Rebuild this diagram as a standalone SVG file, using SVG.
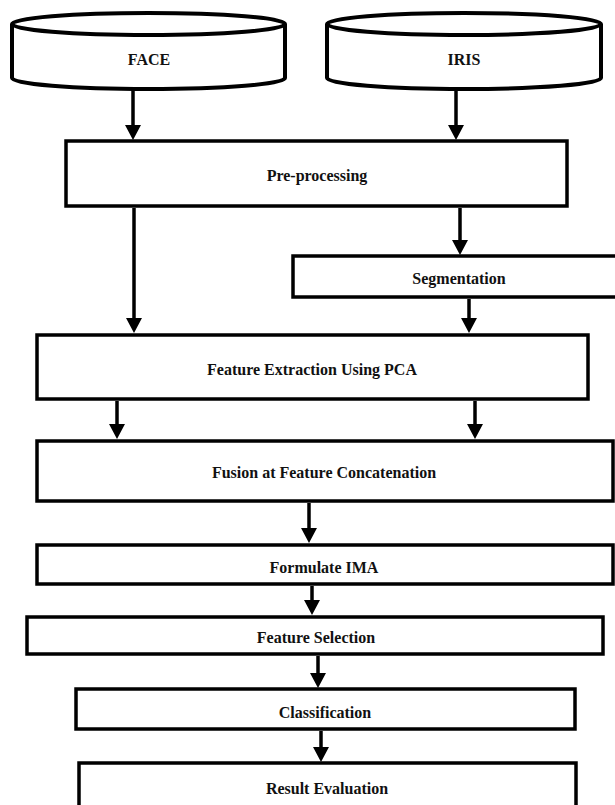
<svg xmlns="http://www.w3.org/2000/svg" width="615" height="805" viewBox="0 0 615 805">
<style>
.box{fill:#fff;stroke:#000;stroke-width:3.5}
.cyl{fill:#fff;stroke:#000;stroke-width:4}
.lbl{font-family:"Liberation Serif","Times New Roman",serif;font-weight:bold;font-size:16px;fill:#111;text-anchor:middle}
.arr{stroke:#000;stroke-width:3.5;fill:none;marker-end:url(#ah)}
</style>
<defs>
<marker id="ah" markerUnits="userSpaceOnUse" viewBox="0 0 15 16" markerWidth="15" markerHeight="16" refX="5" refY="8" orient="auto">
<path d="M0,0 L15,8 L0,16 Z" fill="#000"/>
</marker>
</defs>
<rect width="615" height="805" fill="#fff"/>
<g id="face">
<path class="cyl" d="M12,24 L12,78 A136.5,11 0 0 0 285,78 L285,24"/>
<ellipse class="cyl" cx="148.5" cy="24" rx="136.5" ry="11"/>
<text class="lbl" x="149" y="64.5">FACE</text>
</g>
<g id="iris">
<path class="cyl" d="M327,24 L327,78 A137,11 0 0 0 601,78 L601,24"/>
<ellipse class="cyl" cx="464" cy="24" rx="137" ry="11"/>
<text class="lbl" x="464" y="64.5">IRIS</text>
</g>
<g id="preprocessing">
<rect class="box" x="66" y="141" width="501" height="65"/>
<text class="lbl" x="317" y="180.5">Pre-processing</text>
</g>
<g id="segmentation">
<rect class="box" x="293" y="256" width="332" height="41"/>
<text class="lbl" x="459" y="283.5">Segmentation</text>
</g>
<g id="feature-extraction">
<rect class="box" x="37" y="335" width="551" height="64"/>
<text class="lbl" x="312" y="374.5">Feature Extraction Using PCA</text>
</g>
<g id="fusion">
<rect class="box" x="37" y="441" width="576" height="60"/>
<text class="lbl" x="324" y="477.5">Fusion at Feature Concatenation</text>
</g>
<g id="formulate-ima">
<rect class="box" x="37" y="545" width="576" height="39"/>
<text class="lbl" x="324" y="572.5">Formulate IMA</text>
</g>
<g id="feature-selection">
<rect class="box" x="27" y="617" width="576" height="37"/>
<text class="lbl" x="316" y="642.5">Feature Selection</text>
</g>
<g id="classification">
<rect class="box" x="76" y="689" width="499" height="40"/>
<text class="lbl" x="325" y="717.5">Classification</text>
</g>
<g id="result-evaluation">
<rect class="box" x="79" y="763" width="497" height="50"/>
<text class="lbl" x="327" y="793.5">Result Evaluation</text>
</g>
<g id="connectors">
<line class="arr" x1="133" y1="90" x2="133" y2="130"/>
<line class="arr" x1="456" y1="90" x2="456" y2="130"/>
<line class="arr" x1="460" y1="208" x2="460" y2="245"/>
<line class="arr" x1="134" y1="208" x2="134" y2="323"/>
<line class="arr" x1="469" y1="299" x2="469" y2="323"/>
<line class="arr" x1="117" y1="401" x2="117" y2="429"/>
<line class="arr" x1="475" y1="401" x2="475" y2="429"/>
<line class="arr" x1="309" y1="503" x2="309" y2="533"/>
<line class="arr" x1="312" y1="586" x2="312" y2="605"/>
<line class="arr" x1="318" y1="656" x2="318" y2="678"/>
<line class="arr" x1="321" y1="731" x2="321" y2="752"/>
</g>
</svg>
